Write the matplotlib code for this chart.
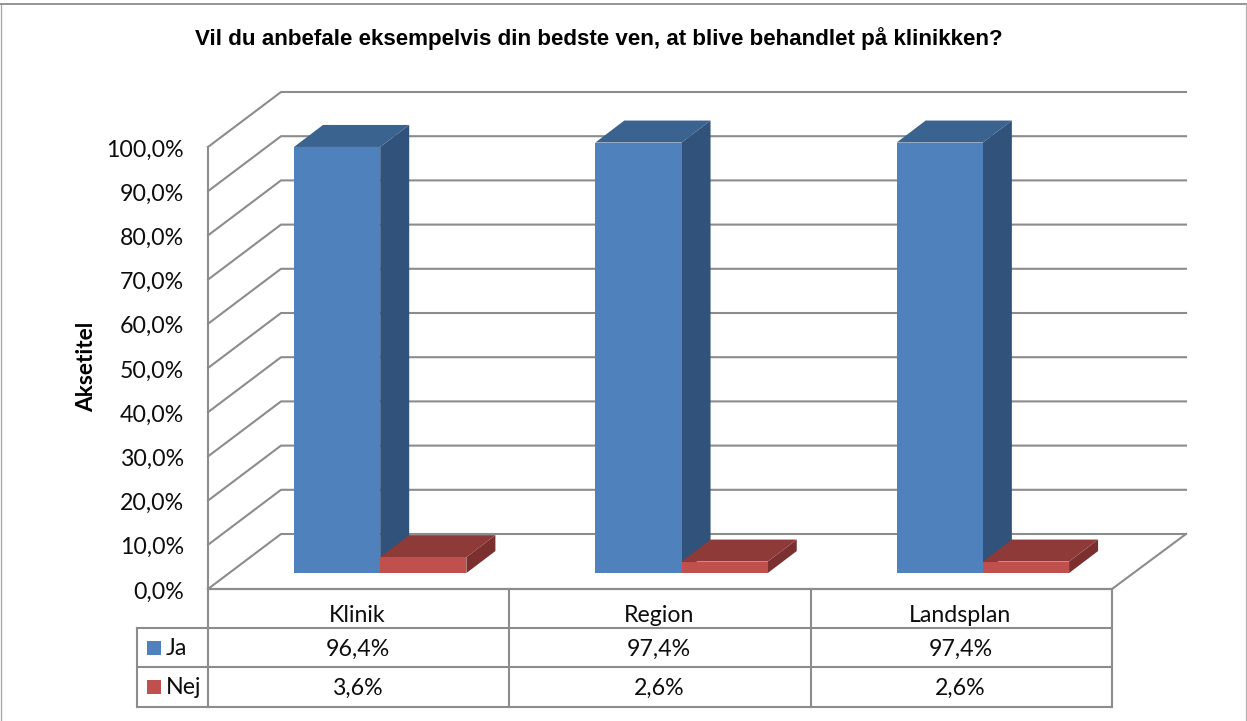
#!/usr/bin/env python3
"""Excel style 3D column chart with data table, drawn in pixel coordinates."""
import matplotlib
matplotlib.use("Agg")
import matplotlib.pyplot as plt
from matplotlib.patches import Polygon, Rectangle

categories = ["Klinik", "Region", "Landsplan"]
ja_values = [96.4, 97.4, 97.4]
nej_values = [3.6, 2.6, 2.6]
series_names = ["Ja", "Nej"]
y_ticks = [0, 10, 20, 30, 40, 50, 60, 70, 80, 90, 100]

TITLE = "Vil du anbefale eksempelvis din bedste ven, at blive behandlet på klinikken?"
AXIS_TITLE = "Aksetitel"

# Plot geometry in pixels
X0, X1 = 208, 1112       # front floor edge
Y0 = 589                 # front floor y (0 %)
PX_PER_PCT = 4.42
DEPTH_X, DEPTH_Y = 73, -55
BAR_W = 86.2
BAR_DX, BAR_DY = 29, -22
BAR_OFFSET = 0.29        # how far back in the floor the bars stand
BAR_LEFT = 86            # first bar edge, from the left of its table cell

GRID = "#8c8c8c"
TXT = "#0d0d0d"
BLUE = ("#4f81bd", "#3b6390", "#31527a")   # front, top, side
RED = ("#c0504d", "#8e3a38", "#7b302f")

TABLE_ROWS = [589, 628, 667, 707]
TABLE_LEFT = 137

FONT = "Lato"
TICK_SIZE = 16.7


def val_y(v, base=Y0):
    return base - v * PX_PER_PCT


def draw_bar(ax, x, v, cols):
    base = Y0 + DEPTH_Y * BAR_OFFSET
    top = val_y(v, base)
    ax.add_patch(Polygon([(x + BAR_W, base), (x + BAR_W + BAR_DX, base + BAR_DY),
                          (x + BAR_W + BAR_DX, top + BAR_DY), (x + BAR_W, top)],
                         fc=cols[2], ec="none", zorder=3))
    ax.add_patch(Polygon([(x, top), (x + BAR_DX, top + BAR_DY),
                          (x + BAR_W + BAR_DX, top + BAR_DY), (x + BAR_W, top)],
                         fc=cols[1], ec="none", zorder=3))
    ax.add_patch(Rectangle((x, top), BAR_W, base - top, fc=cols[0], ec="none", zorder=3))


def main():
    fig = plt.figure(figsize=(12.47, 7.21), dpi=100)
    ax = fig.add_axes([0, 0, 1, 1])
    ax.set_xlim(0, 1247)
    ax.set_ylim(721, 0)
    ax.axis("off")

    # Outer chart frame (open at the bottom)
    ax.plot([1, 1], [4, 721], color="#a6a6a6", lw=0.9)
    ax.plot([0, 1246], [4, 4], color=GRID, lw=1.3)
    ax.plot([1246, 1246], [4, 721], color="#b0b0b0", lw=0.9)

    ax.text(599, 39, TITLE, fontsize=16.1, fontweight="bold", family="Liberation Sans",
            ha="center", va="center", color="black")
    ax.text(87, 367, AXIS_TITLE, fontsize=16.4, fontweight="bold", family=FONT,
            rotation=90, ha="center", va="center", color="black")

    # Walls and gridlines
    for t in y_ticks:
        y = val_y(t)
        ax.plot([X0, X0 + DEPTH_X, X1 + DEPTH_X + 1],
                [y, y + DEPTH_Y, y + DEPTH_Y], color=GRID, lw=1.5, zorder=1)
        ax.text(184, y + 3, f"{t},0%", fontsize=TICK_SIZE, family=FONT, color=TXT,
                ha="right", va="center")
    ax.plot([X0, X0], [val_y(100), Y0], color=GRID, lw=1.5, zorder=1)
    ax.plot([X1, X1 + DEPTH_X + 1], [Y0, Y0 + DEPTH_Y], color=GRID, lw=1.5, zorder=1)

    # Bars
    cell_w = (X1 - X0) / len(categories)
    for i in range(len(categories)):
        left = X0 + i * cell_w + BAR_LEFT
        draw_bar(ax, left, ja_values[i], BLUE)
        draw_bar(ax, left + BAR_W, nej_values[i], RED)

    # Data table
    ax.plot([X0, X1], [TABLE_ROWS[0]] * 2, color=GRID, lw=1.6, zorder=2)
    for y in TABLE_ROWS[1:]:
        ax.plot([TABLE_LEFT, X1], [y, y], color=GRID, lw=1.5, zorder=2)
    for i in range(len(categories) + 1):
        ax.plot([X0 + i * cell_w] * 2, [TABLE_ROWS[0], TABLE_ROWS[3]],
                color=GRID, lw=1.5, zorder=2)
    ax.plot([TABLE_LEFT] * 2, [TABLE_ROWS[1], TABLE_ROWS[3]], color=GRID, lw=1.5, zorder=2)

    for i, cat in enumerate(categories):
        cx = X0 + (i + 0.5) * cell_w - 1
        ax.text(cx, 615, cat, fontsize=TICK_SIZE, family=FONT, color=TXT, ha="center", va="center")
        ax.text(cx, 649, f"{ja_values[i]:.1f}%".replace(".", ","), fontsize=TICK_SIZE,
                family=FONT, color=TXT, ha="center", va="center")
        ax.text(cx, 688, f"{nej_values[i]:.1f}%".replace(".", ","), fontsize=TICK_SIZE,
                family=FONT, color=TXT, ha="center", va="center")

    # Legend keys in the table
    for name, col, row in zip(series_names, (BLUE[0], RED[0]), (0, 1)):
        yc = (TABLE_ROWS[row + 1] + TABLE_ROWS[row + 2]) / 2
        ax.add_patch(Rectangle((147, yc - 7), 14, 14, fc=col, ec="none", zorder=3))
        ax.text(166, yc + 1, name, fontsize=TICK_SIZE, family=FONT, color=TXT,
                ha="left", va="center")

    fig.savefig("out.png", dpi=100)


if __name__ == "__main__":
    main()
